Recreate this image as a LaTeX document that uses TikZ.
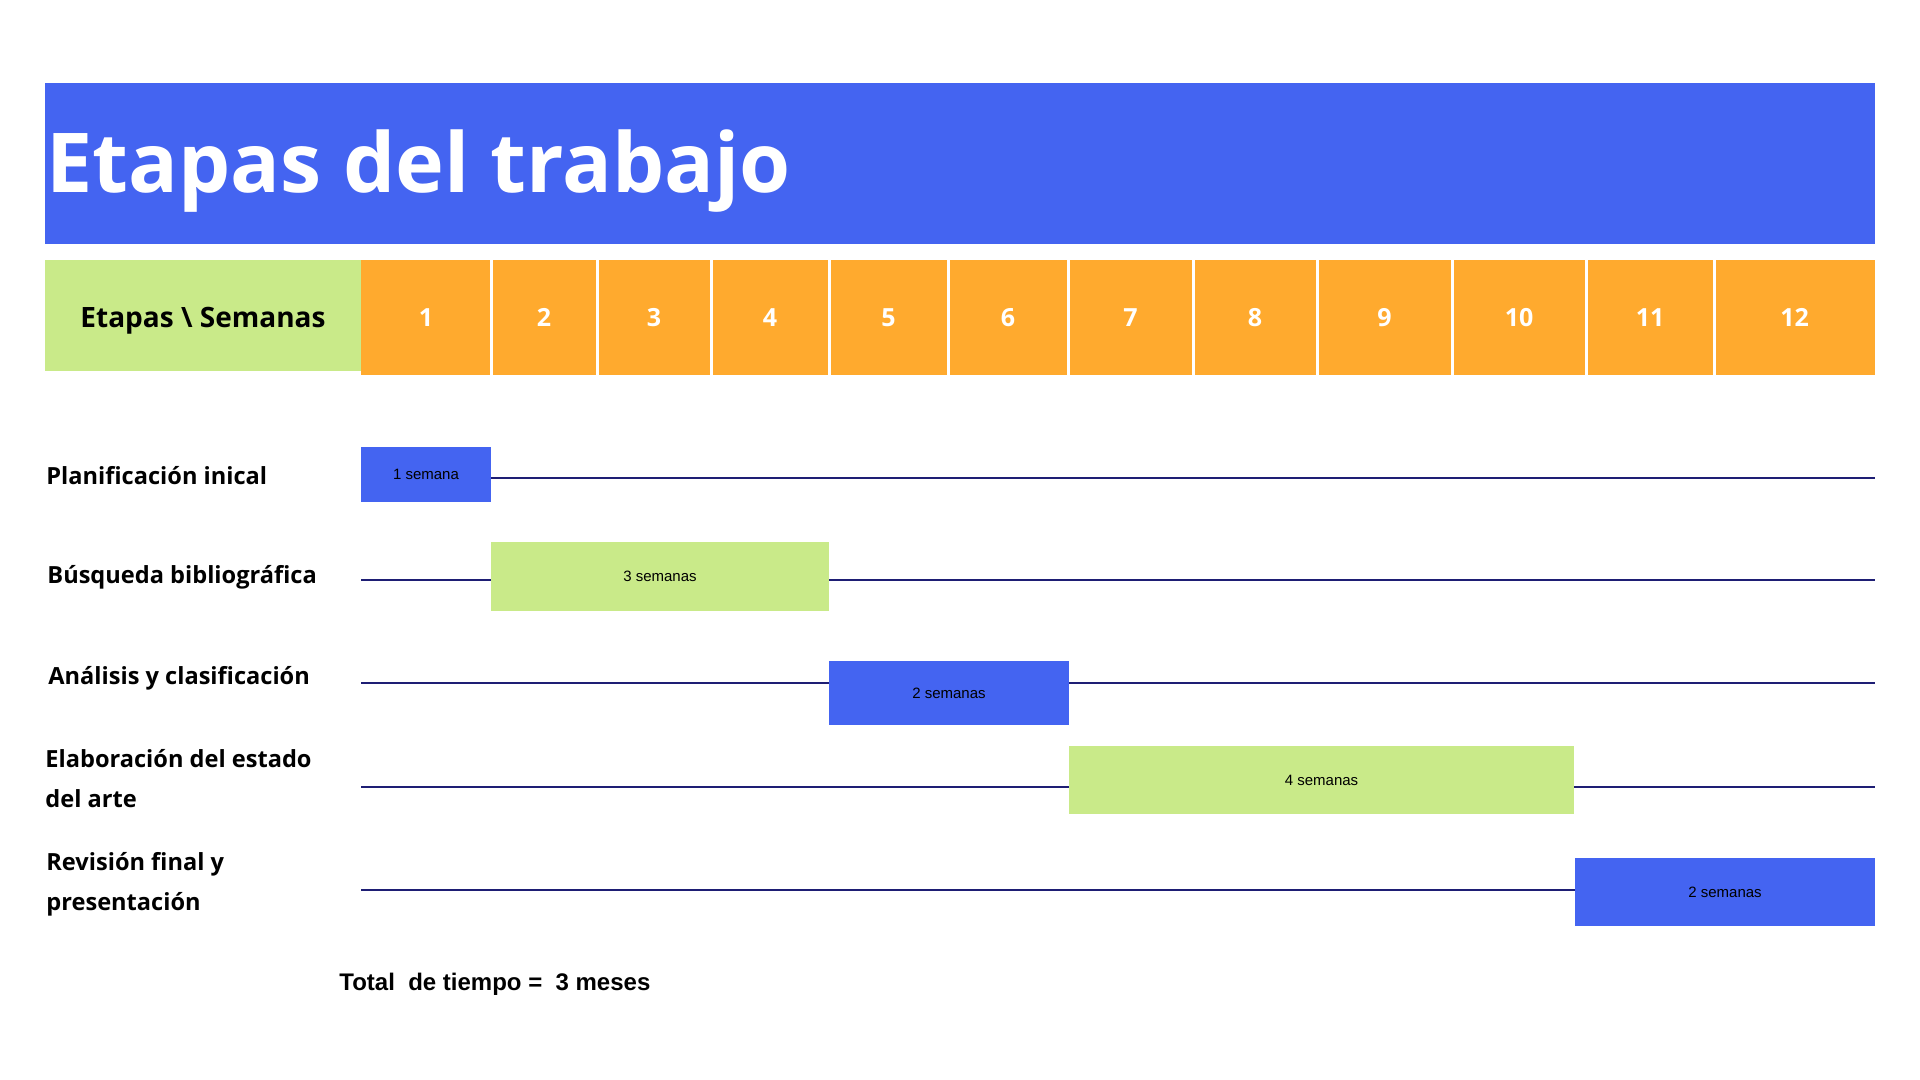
\documentclass[tikz,border=0pt]{standalone}
\usepackage{fontspec}
\setmainfont{Open Sans}
\newfontfamily\arialfont{Liberation Sans}
\usetikzlibrary{positioning}
\definecolor{royal}{HTML}{4464F1}
\definecolor{amber}{HTML}{FFAA2E}
\definecolor{lime}{HTML}{C9EA89}
\definecolor{navyline}{HTML}{1E1E74}

\begin{document}
\begin{tikzpicture}[
  x=0.5pt, y=-0.5pt,
  title/.style={font=\fontsize{41.3}{48}\selectfont\bfseries, text=white, inner sep=0pt, anchor=base west},
  num/.style={font=\fontsize{12.5}{15}\selectfont\bfseries, text=white, inner sep=0pt},
  stage/.style={font=\fontsize{11.8}{20}\selectfont\bfseries, align=left, inner sep=0pt, anchor=west},
  bar/.style={fill=#1, inner sep=0pt, outer sep=0pt, anchor=north west,
              font=\arialfont\fontsize{7.5}{9}\selectfont},
  track/.style={draw=navyline, line width=1pt}
]
  \useasboundingbox (0,0) rectangle (1920,1080);

  % title band
  \node[fill=royal, minimum width=915pt, minimum height=80.5pt, inner sep=0pt, outer sep=0pt, anchor=north west] (band) at (45,83) {};
  \node[title] (heading) at (46,193) {Etapas del trabajo};

  % header row
  \node[fill=lime, minimum width=158pt, minimum height=55.5pt, inner sep=0pt, outer sep=0pt, anchor=north west] (corner) at (45,260) {};
  \node[font=\fontsize{14}{17}\selectfont\bfseries, inner sep=0pt] (cornertext) at (203,321) {Etapas \textbackslash\ Semanas};
  \fill[amber] (361,260) rectangle (1875,375);
  \foreach \a/\b [count=\i] in {361/491, 491/597, 597/711, 711/829, 829/948, 948/1068,
                                1068/1193, 1193/1317, 1317/1452, 1452/1586, 1586/1714, 1714/1875}{
    \node[num] (week\i) at ({(\a+\b)/2},317.5) {\i};
  }
  \foreach \x in {491, 597, 711, 829, 948, 1068, 1193, 1317, 1452, 1586, 1714}
    \draw[white, line width=1.5pt] (\x,260) -- (\x,375);

  % tracks
  \foreach \y in {478, 580, 683, 787, 890}
    \draw[track] (361,\y) -- (1875,\y);

  % stages
  \node[stage] (plan) at (46,476) {Planificación inical};
  \node[stage] (search) at (47,577) {Búsqueda bibliográfica};
  \node[stage] (analysis) at (48,678) {Análisis y clasificación};
  \node[stage] (review) at (45,779) {Elaboración del estado\\del arte};
  \node[stage] (final) at (46,884) {Revisión final y\\presentación};

  % bars
  \node[bar=royal, minimum width=65pt, minimum height=27.5pt] (planbar) at (361,447) {1 semana};
  \node[bar=lime, minimum width=169pt, minimum height=34.5pt] (searchbar) at (491,542) {3 semanas};
  \node[bar=royal, minimum width=120pt, minimum height=32pt] (analysisbar) at (829,661) {2 semanas};
  \node[bar=lime, minimum width=252.5pt, minimum height=34pt] (reviewbar) at (1069,746) {4 semanas};
  \node[bar=royal, minimum width=150pt, minimum height=34pt] (finalbar) at (1575,858) {2 semanas};

  \node[font=\arialfont\fontsize{12}{14}\selectfont\bfseries, anchor=west, inner sep=0pt] (total) at (339,984) {Total\ \ de tiempo =\ \ 3 meses};
\end{tikzpicture}
\end{document}
